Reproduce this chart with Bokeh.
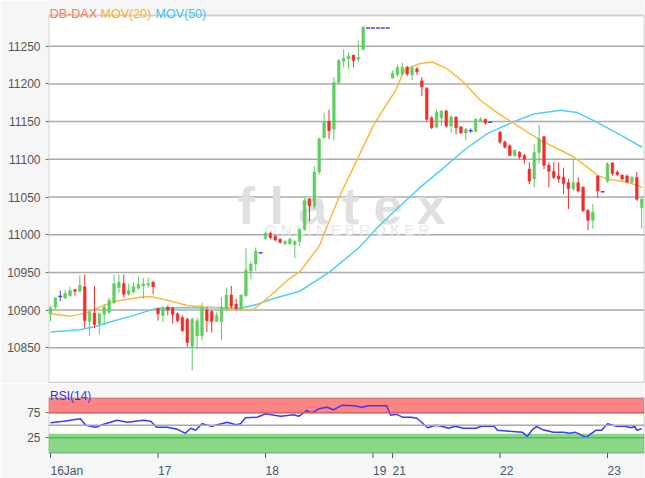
import numpy as np
from bokeh.plotting import figure
from bokeh.layouts import column
from bokeh.models import Range1d, FixedTicker, Label, BoxAnnotation, Span, ColumnDataSource
from bokeh.core.properties import value
from bokeh.embed import file_html
from bokeh.resources import INLINE

# ---------------- data (hourly candles, slot index on x) ----------------
slot = list(range(0, 91)) + list(range(92, 122))

open_ = [10895, 10904, 10918, 10916, 10919, 10927, 10925, 10931, 10885, 10896, 10882, 10894, 10897, 10910, 10930, 10935, 10921, 10924, 10929, 10932, 10933, 10937,
         10902, 10893, 10904, 10903, 10895, 10890, 10888, 10852, 10866, 10866, 10900, 10898, 10885, 10885, 10902, 10920, 10908, 10902, 10919, 10952, 10961, 10976,
         10995, 11002, 10998, 10994, 10988, 10988, 10987, 10991, 11007, 11047, 11037, 11083, 11129, 11150, 11140, 11202, 11230, 11233, 11238, 11233, 11246,
         11274, 11274, 11274, 11274, 11274,
         11208, 11212, 11213, 11222, 11212, 11220, 11204, 11194, 11155, 11143, 11155, 11164, 11144, 11156, 11143, 11135, 11138, 11137, 11151, 11153, 11149,
         11136, 11123, 11118, 11105, 11109, 11105, 11087, 11074, 11109, 11130, 11092, 11084, 11078, 11076, 11069, 11061, 11069, 11063, 11032, 11019, 11078, 11057,
         11071, 11095, 11083, 11079, 11078, 11070, 11076, 11036]
high_ = [10906, 10917, 10926, 10927, 10931, 10928, 10946, 10947, 10899, 10932, 10897, 10908, 10917, 10947, 10947, 10947, 10935, 10937, 10944, 10943, 10943, 10939,
         10903, 10906, 10906, 10904, 10897, 10893, 10890, 10890, 10890, 10910, 10904, 10900, 10897, 10917, 10930, 10932, 10915, 10921, 10982, 10965, 10983, 10977,
         11004, 11004, 11000, 10995, 10993, 10996, 10993, 11009, 11049, 11049, 11091, 11129, 11162, 11166, 11209, 11233, 11246, 11242, 11239, 11257, 11277,
         11274, 11274, 11274, 11274, 11274,
         11218, 11226, 11228, 11224, 11224, 11222, 11209, 11196, 11157, 11166, 11165, 11166, 11159, 11157, 11144, 11142, 11141, 11155, 11156, 11154, 11149,
         11138, 11125, 11120, 11112, 11111, 11107, 11096, 11120, 11146, 11131, 11096, 11096, 11096, 11089, 11074, 11100, 11076, 11064, 11034, 11041, 11078, 11058,
         11096, 11096, 11085, 11080, 11080, 11078, 11083, 11050]
low_ = [10885, 10900, 10912, 10915, 10918, 10919, 10924, 10876, 10866, 10876, 10868, 10880, 10895, 10908, 10923, 10917, 10919, 10922, 10927, 10915, 10930, 10921,
        10886, 10884, 10893, 10882, 10884, 10871, 10851, 10820, 10848, 10860, 10871, 10870, 10884, 10860, 10900, 10902, 10900, 10900, 10917, 10941, 10952, 10975,
        10993, 10994, 10991, 10988, 10986, 10986, 10969, 10985, 11005, 11018, 11034, 11080, 11127, 11127, 11125, 11200, 11222, 11220, 11222, 11229, 11244,
        11274, 11274, 11274, 11274, 11274,
        11207, 11210, 11211, 11210, 11205, 11212, 11184, 11150, 11140, 11141, 11144, 11142, 11135, 11133, 11134, 11125, 11135, 11136, 11150, 11146, 11149,
        11120, 11114, 11104, 11103, 11100, 11094, 11067, 11063, 11094, 11087, 11063, 11074, 11069, 11054, 11034, 11058, 11056, 11030, 11006, 11008, 11049, 11056,
        11069, 11078, 11078, 11072, 11068, 11068, 11045, 11008]
close_ = [10903, 10916, 10918, 10922, 10926, 10925, 10933, 10886, 10897, 10881, 10895, 10904, 10913, 10935, 10937, 10921, 10926, 10931, 10934, 10935, 10935, 10931,
          10895, 10903, 10900, 10894, 10886, 10873, 10857, 10888, 10886, 10904, 10886, 10885, 10893, 10904, 10920, 10905, 10902, 10920, 10953, 10961, 10978, 10976,
          11002, 10996, 10993, 10990, 10991, 10994, 10991, 11007, 11045, 11038, 11083, 11127, 11149, 11138, 11202, 11231, 11234, 11237, 11231, 11235, 11275,
          11274, 11274, 11274, 11274, 11274,
          11214, 11222, 11222, 11213, 11221, 11216, 11196, 11153, 11142, 11162, 11164, 11144, 11156, 11142, 11135, 11140, 11138, 11153, 11153, 11148, 11149,
          11123, 11116, 11105, 11112, 11103, 11100, 11071, 11109, 11127, 11092, 11084, 11076, 11074, 11068, 11061, 11069, 11058, 11032, 11019, 11030, 11058, 11057,
          11094, 11081, 11080, 11074, 11070, 11076, 11047, 11047]

# moving averages (slot, value)
ma20_x = [0, 4, 7.2, 11.6, 13.6, 18.4, 20.5, 23.9, 28, 31.4, 35.5, 38.9, 41.6, 45, 48.4, 51.2, 55, 59, 62.5, 66, 68, 70.5, 72.5,
          75.7, 78.1, 81.2, 84.6, 88, 91.4, 94.5, 97.6, 100.3, 104.4, 107.1, 109.8, 111.9, 113.9, 118, 121.1]
ma20_v = [10895, 10892, 10896, 10908, 10912, 10917, 10918, 10913, 10906, 10904, 10903, 10900, 10901, 10919, 10939, 10952, 10985, 11049, 11096, 11144, 11165, 11190, 11219,
          11227, 11229, 11220, 11202, 11178, 11162, 11149, 11136, 11125, 11112, 11103, 11090, 11079, 11074, 11070, 11063]
ma50_x = [0, 6, 9, 12.5, 16, 19.5, 21.5, 26.5, 31, 35, 38.9, 42.5, 45.5, 51, 57, 63, 67, 71.5, 75.7, 79.8, 84.6, 89.4, 94.5, 98.9,
          104.4, 107.8, 111.9, 116.7, 121.1]
ma50_v = [10871, 10874, 10878, 10885, 10891, 10898, 10902, 10903, 10903, 10903, 10902, 10908, 10915, 10925, 10950, 10982, 11010, 11038, 11063, 11085, 11112, 11134, 11149, 11160,
          11165, 11162, 11149, 11132, 11116]

# RSI(14)
rsi_x = [0, 2.7, 6.1, 7.2, 9.2, 10.9, 13.6, 15.7, 19.1, 20.5, 21.7, 23.9, 26, 27.6, 28.7, 29.7, 31, 33, 36.2, 37.9, 38.9, 39.9, 42.3, 44,
         47.1, 49.8, 50.8, 52.5, 53.5, 54.9, 56.6, 57.9, 59.6, 62.1, 63.8, 65, 68.8, 69.6, 70.9, 72.1, 73.8, 75, 77.2, 78.8, 80.1, 81.4,
         82.8, 84.5, 87, 88.2, 90.8, 91.5, 94, 96.6, 97.6, 98.7, 99.5, 100.8, 102.9, 105, 106.2, 107.5, 109.6, 111.6, 112.8, 114, 115.8,
         117.6, 118.8, 119.6, 120, 121]
rsi_v = [55, 58, 63, 50, 46, 52, 60, 56, 60, 58, 46, 46, 42, 34, 44, 40, 53, 48, 56, 51, 53, 65, 66, 73,
         68, 71, 68, 80, 75, 83, 86, 81, 90, 89, 86, 89, 89, 70, 72, 66, 66, 64, 45, 50, 48, 44,
         48, 44, 44, 48, 48, 40, 38, 36, 28, 42, 48, 41, 36, 36, 34, 36, 26, 40, 40, 53, 48,
         48, 45, 48, 40, 43]

price_ticks = [10850, 10900, 10950, 11000, 11050, 11100, 11150, 11200, 11250]
rsi_ticks = [25, 75]
day_ticks = [0, 22, 44, 66, 70, 92, 114]
day_labels = ["16Jan", "17", "18", "19", "21", "22", "23"]
title_parts = ["DB-DAX", "MOV(20)", "MOV(50)"]

# ---------------- styling ----------------
GREEN = "#5dcf5d"
RED = "#f42b2b"
DOJI = "#4a4ad8"
BG = "#f6f6f6"
FRAME = "#707070"
AXIS_TXT = "#555555"
DATE_TXT = "#44586f"
FONT = "Liberation Sans"
W = 645
LEFT = 48
RIGHT = 1

# ---- pixel geometry helpers (page pixels -> data values) ----
P_TOP, P_BOT = 0, 383            # main figure frame on the page
P_SCALE = 0.754                  # px per index point
P_Y0 = 45.7                      # page y of the 11250 level
def price_at(py):
    return 11250 - (py - P_Y0) / P_SCALE

R_TOP, R_BOT = 383, 478          # RSI figure frame on the page
R_SCALE = 0.5                    # px per RSI point
def rsi_at(py):
    return 75 - (py - 412.3) / R_SCALE

o = np.array(open_, dtype=float)
c = np.array(close_, dtype=float)
x = np.array(slot, dtype=float)
col = np.where(c > o, GREEN, np.where(c < o, RED, DOJI))
body = c != o

wick_src = ColumnDataSource(dict(x=x, h=high_, l=low_, color=col))
body_src = ColumnDataSource(dict(x=x[body], top=np.maximum(o, c)[body], bot=np.minimum(o, c)[body], color=col[body]))
doji_src = ColumnDataSource(dict(x=x[~body], y=o[~body]))

xr = Range1d(-0.41, 121.57)


def style_yaxis(fig, ticks):
    fig.yaxis.ticker = FixedTicker(ticks=ticks)
    fig.yaxis.axis_line_color = None
    fig.yaxis.major_tick_line_color = FRAME
    fig.yaxis.major_tick_in = 0
    fig.yaxis.major_tick_out = 3
    fig.yaxis.minor_tick_line_color = None
    fig.yaxis.major_label_standoff = 5
    fig.yaxis.major_label_text_font = FONT
    fig.yaxis.major_label_text_font_size = "12px"
    fig.yaxis.major_label_text_color = AXIS_TXT


# ---------------- main price chart (with title row inside the canvas) ----------------
p = figure(width=W, height=P_BOT - P_TOP, x_range=xr, y_range=Range1d(price_at(P_BOT), price_at(P_TOP)),
           x_axis_location=None,
           output_backend="svg", toolbar_location=None,
           min_border_left=LEFT, min_border_right=RIGHT, min_border_top=0, min_border_bottom=0,
           background_fill_color=BG, border_fill_color=BG, outline_line_color=None)
p.xgrid.visible = False
p.ygrid.visible = False
style_yaxis(p, price_ticks)

# plot box (white area with frame)
p.add_layout(BoxAnnotation(bottom=price_at(382), top=price_at(15), fill_color="white", fill_alpha=1,
                           line_color=FRAME, line_width=2, level="image"))
for tk in price_ticks:
    p.add_layout(Span(location=tk, dimension="width", line_color="#ababab", line_width=1.5, level="underlay"))

# watermark
p.add_layout(Label(x=59.6, y=11038, text="f l a t e x", text_align="center", text_baseline="alphabetic",
                   text_font=FONT, text_font_style="bold", text_font_size="52px", text_color="#e0e0e0",
                   level="underlay"))
p.add_layout(Label(x=61.6, y=11007, text="O N L I N E   B R O K E R", text_align="center", text_baseline="alphabetic",
                   text_font=FONT, text_font_size="15px", text_color="#e8e8e8", level="underlay"))

p.line(ma50_x, ma50_v, line_color="#4fd0f5", line_width=1.5)
p.line(ma20_x, ma20_v, line_color="#ffb83d", line_width=1.5)

p.segment(x0="x", y0="l", x1="x", y1="h", color="color", line_width=1, source=wick_src)
p.vbar(x="x", width=0.55, top="top", bottom="bot", fill_color="color", line_color="color", line_width=0.5, source=body_src)
p.scatter(x="x", y="y", marker="dash", size=4, line_color=DOJI, line_width=1.5, source=doji_src)

# title row: DB-DAX MOV(20) MOV(50)
p.text(x=[xr.start] * 3, y=[price_at(13.3)] * 3, x_offset=[1.3, 52, 107], text=title_parts,
       text_color=["#ff7a55", "#ffb020", "#33c8f2"],
       text_font=value(FONT), text_font_size=value("12.5px"), text_baseline="alphabetic", text_align="left")

# ---------------- RSI panel (with its label and the date axis inside the canvas) ----------------
r = figure(width=W, height=R_BOT - R_TOP, x_range=xr, y_range=Range1d(rsi_at(R_BOT), rsi_at(R_TOP)),
           x_axis_location=None,
           output_backend="svg", toolbar_location=None,
           min_border_left=LEFT, min_border_right=RIGHT, min_border_top=0, min_border_bottom=0,
           background_fill_color=BG, border_fill_color=BG, outline_line_color=None)
r.xgrid.visible = False
r.ygrid.visible = False
style_yaxis(r, rsi_ticks)

r_box_top, r_box_bot = rsi_at(397.5), rsi_at(452.5)
r.add_layout(BoxAnnotation(bottom=r_box_bot, top=r_box_top, fill_color="white", fill_alpha=1,
                           line_color=None, level="image"))
r.add_layout(BoxAnnotation(bottom=74, top=r_box_top, fill_color="#ff8484", fill_alpha=1, line_color=None, level="underlay"))
r.add_layout(BoxAnnotation(bottom=r_box_bot, top=33, fill_color="#88d888", fill_alpha=1, line_color=None, level="underlay"))
r.add_layout(Span(location=75, dimension="width", line_color="#d85f5f", line_width=1.5))
r.add_layout(Span(location=50, dimension="width", line_color="#a8a8a8", line_width=1.5))
r.add_layout(Span(location=25, dimension="width", line_color="#5cb55c", line_width=1.5))
r.line(rsi_x, rsi_v, line_color="#3a3aff", line_width=1.5)
r.add_layout(BoxAnnotation(bottom=r_box_bot, top=r_box_top, fill_alpha=0,
                           line_color=FRAME, line_width=2, level="overlay"))

r.text(x=[xr.start], y=[rsi_at(395.5)], x_offset=[1.5], text=["RSI(14)"], text_color="#2e2eff",
       text_font=value(FONT), text_font_size=value("12px"), text_baseline="alphabetic", text_align="left")

# date ticks (5 px long) and labels that start at their tick
tick_len = 5 / R_SCALE
r.segment(x0=day_ticks, y0=[r_box_bot] * len(day_ticks), x1=day_ticks, y1=[r_box_bot - tick_len] * len(day_ticks),
          line_color=DATE_TXT, line_width=1)
r.text(x=day_ticks, y=[rsi_at(470.0)] * len(day_ticks), text=day_labels, text_color=DATE_TXT,
       text_font=value(FONT), text_font_size=value("12px"), text_baseline="alphabetic", text_align="left")

layout = column(p, r, spacing=0)
open("out.html", "w").write(file_html(layout, INLINE))
